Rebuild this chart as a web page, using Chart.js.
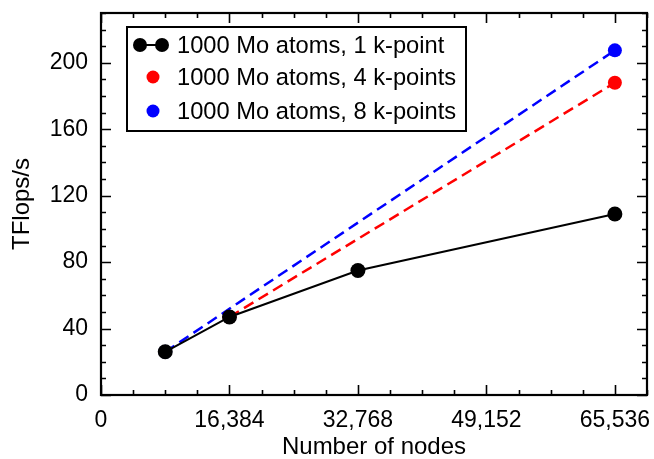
<!DOCTYPE html>
<html>
<head>
<meta charset="utf-8">
<script src="https://cdn.jsdelivr.net/npm/chart.js@4/dist/chart.umd.min.js"></script>
<style>
  html, body { margin: 0; padding: 0; background: #fff; }
  #wrap { width: 654px; height: 459px; }
</style>
</head>
<body>
<div id="wrap"><canvas id="chart"></canvas></div>
<script>
// node counts and sustained performance (TFlops/s)
var nodes1k = [8192, 16384, 32768, 65536];
var perf1k = [26, 47, 75, 109];
var nodes4k = [16384, 65536];
var perf4k = [47, 188];
var nodes8k = [8192, 65536];
var perf8k = [26, 207.5];

var seriesNames = ['1000 Mo atoms, 1 k-point', '1000 Mo atoms, 4 k-points', '1000 Mo atoms, 8 k-points'];
var seriesColors = ['#000000', '#ff0000', '#0000ff'];

var xTickValues = [0, 16384, 32768, 49152, 65536];
var yTickValues = [0, 40, 80, 120, 160, 200];
var xMax = 69632, xMajor = 16384, xMinor = 4096;
var yMax = 230, yMajor = 40, yMinor = 10;

var FONT = "'Liberation Sans', Arial, sans-serif";

function pts(xs, ys) {
  return xs.map(function (x, i) { return { x: x, y: ys[i] }; });
}

function fixedTicks(values) {
  return function (scale) {
    scale.ticks = values.map(function (v) { return { value: v }; });
  };
}

// frame with inward major/minor ticks on all four sides
var framePlugin = {
  id: 'frame',
  afterDatasetsDraw: function (chart) {
    var ctx = chart.ctx, a = chart.chartArea;
    var xs = chart.scales.x, ys = chart.scales.y;
    ctx.save();
    ctx.strokeStyle = '#000';
    ctx.lineWidth = 1.6;
    ctx.beginPath();
    for (var v = 0; v <= xMax; v += xMinor) {
      var px = Math.round(xs.getPixelForValue(v)) + 0.5;
      var len = (v % xMajor === 0) ? 10 : 5;
      ctx.moveTo(px, a.bottom); ctx.lineTo(px, a.bottom - len);
      ctx.moveTo(px, a.top); ctx.lineTo(px, a.top + len);
    }
    for (var w = 0; w <= yMax; w += yMinor) {
      var py = Math.round(ys.getPixelForValue(w)) + 0.5;
      var l2 = (w % yMajor === 0) ? 10 : 5;
      ctx.moveTo(a.left, py); ctx.lineTo(a.left + l2, py);
      ctx.moveTo(a.right, py); ctx.lineTo(a.right - l2, py);
    }
    ctx.stroke();
    ctx.lineWidth = 2.2;
    ctx.strokeRect(a.left, a.top, a.right - a.left, a.bottom - a.top);
    ctx.restore();
  }
};

// boxed legend in the upper left of the plot
var legendBox = {
  id: 'legendBox',
  afterDraw: function (chart) {
    var ctx = chart.ctx;
    var bx = 127, by = 27, bw = 339, bh = 104;
    var rows = [45, 77, 111];
    ctx.save();
    ctx.fillStyle = '#fff';
    ctx.fillRect(bx, by, bw, bh);
    ctx.strokeStyle = '#000';
    ctx.lineWidth = 2;
    ctx.strokeRect(bx, by, bw, bh);
    chart.data.datasets.forEach(function (ds, i) {
      var y = rows[i];
      ctx.fillStyle = ds.pointBackgroundColor;
      if (i === 0) {
        ctx.strokeStyle = ds.borderColor;
        ctx.lineWidth = 2;
        ctx.beginPath(); ctx.moveTo(140, y); ctx.lineTo(162, y); ctx.stroke();
        [140, 162].forEach(function (cx) {
          ctx.beginPath(); ctx.arc(cx, y, 7, 0, Math.PI * 2); ctx.fill();
        });
      } else {
        ctx.beginPath(); ctx.arc(153, y, 6.5, 0, Math.PI * 2); ctx.fill();
      }
      ctx.fillStyle = '#000';
      ctx.font = '23.7px ' + FONT;
      ctx.textBaseline = 'middle';
      ctx.fillText(ds.label, 177, y + 1);
    });
    ctx.restore();
  }
};

var config = {
  type: 'scatter',
  data: {
    datasets: [
      {
        label: seriesNames[0],
        data: pts(nodes1k, perf1k),
        showLine: true,
        borderColor: seriesColors[0],
        borderWidth: 2,
        pointBackgroundColor: seriesColors[0],
        pointBorderWidth: 0,
        pointRadius: 7.5
      },
      {
        label: seriesNames[1],
        data: pts(nodes4k, perf4k),
        showLine: true,
        borderColor: seriesColors[1],
        borderWidth: 2.5,
        borderDash: [11, 6],
        pointBackgroundColor: seriesColors[1],
        pointBorderWidth: 0,
        pointRadius: 7
      },
      {
        label: seriesNames[2],
        data: pts(nodes8k, perf8k),
        showLine: true,
        borderColor: seriesColors[2],
        borderWidth: 2.5,
        borderDash: [11, 6],
        pointBackgroundColor: seriesColors[2],
        pointBorderWidth: 0,
        pointRadius: 7
      }
    ]
  },
  options: {
    responsive: false,
    animation: false,
    layout: { autoPadding: false, padding: { top: 13, right: 7, left: 0, bottom: 0 } },
    plugins: {
      legend: { display: false },
      tooltip: { enabled: false }
    },
    scales: {
      x: {
        type: 'linear',
        min: 0,
        max: xMax,
        border: { display: false },
        grid: { display: false, drawTicks: false },
        afterBuildTicks: fixedTicks(xTickValues),
        ticks: {
          maxRotation: 0,
          autoSkip: false,
          padding: 12,
          color: '#000',
          font: { family: FONT, size: 23 },
          callback: function (v) { return v.toLocaleString('en-US'); }
        },
        title: {
          display: true,
          text: 'Number of nodes',
          color: '#000',
          padding: { top: 0, bottom: -3 },
          font: { family: FONT, size: 24 }
        },
        afterFit: function (s) {
          s.height = 64;
          s.paddingLeft = 0;
          s.paddingRight = 0;
        }
      },
      y: {
        min: 0,
        max: yMax,
        border: { display: false },
        grid: { display: false, drawTicks: false },
        afterBuildTicks: fixedTicks(yTickValues),
        ticks: {
          padding: 13,
          color: '#000',
          font: { family: FONT, size: 23 }
        },
        title: {
          display: true,
          text: 'TFlops/s',
          color: '#000',
          padding: { top: 8, bottom: 0 },
          font: { family: FONT, size: 24 }
        },
        afterFit: function (s) {
          s.width = 101;
          s.paddingTop = 0;
          s.paddingBottom = 0;
        }
      }
    }
  },
  plugins: [framePlugin, legendBox]
};

var canvas = document.getElementById('chart');
canvas.width = 654;
canvas.height = 459;
var chart = new Chart(canvas.getContext('2d'), config);
</script>
</body>
</html>
